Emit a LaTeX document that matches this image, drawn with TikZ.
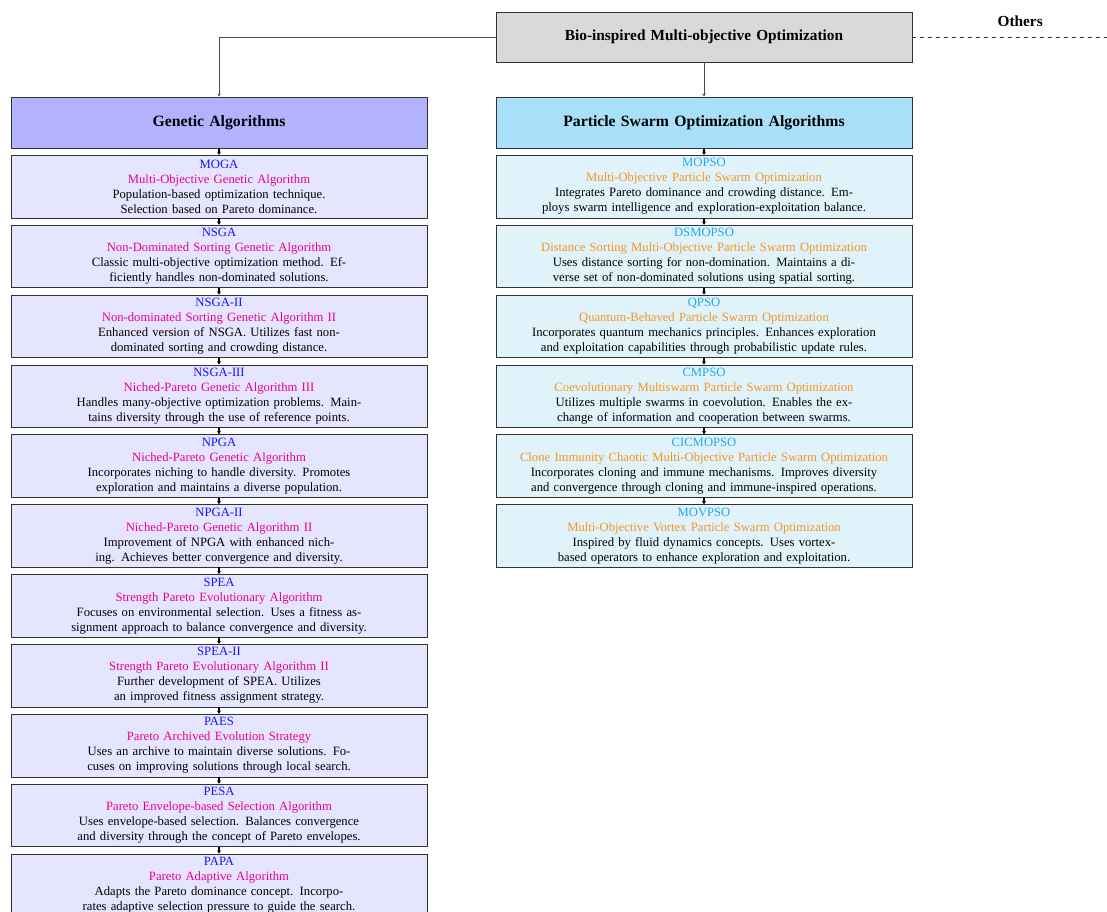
\documentclass[tikz,border=0pt]{standalone}
\usepackage{fontspec}
\setmainfont{Liberation Serif}
\usepackage{tikz}
\usetikzlibrary{positioning,arrows.meta}
\definecolor{gaabbr}{HTML}{1414FF}
\definecolor{ganame}{HTML}{EC008C}
\definecolor{psoabbr}{HTML}{1EA8EE}
\definecolor{psoname}{HTML}{F7941D}
\definecolor{psohead}{HTML}{A9E0F9}
\definecolor{psofill}{HTML}{E0F3FB}

\begin{document}
\begin{tikzpicture}[
  x=0.75pt, y=-0.75pt,
  font=\fontsize{9.5}{11.25}\selectfont,
  box/.style={draw=black!80,align=center,text width=308pt,inner xsep=2pt,inner ysep=1pt},
  root/.style={box,fill=gray!30,minimum height=37.5pt,font=\fontsize{11.5}{13}\selectfont\bfseries},
  head/.style={box,minimum height=38.25pt,font=\fontsize{11.8}{13}\selectfont\bfseries},
  gahead/.style={head,fill=blue!30},
  psohead/.style={head,fill=psohead},
  gaitem/.style={box,fill=blue!10,minimum height=47pt},
  psoitem/.style={box,fill=psofill,minimum height=47pt},
  link/.style={draw=black!70,-{Stealth[length=2.5pt,width=2.5pt]}},
  flow/.style={black,thick,-{Stealth[length=2.5pt,width=3pt]}},
  node distance=5pt,
]
\useasboundingbox (0,0) rectangle (1107,912);
% root
\node[root] (bio) at (704,37) {Bio-inspired Multi-objective Optimization};
\coordinate (oth) at (1128,37);
\draw[dashed,black!80] (bio.east) -- node[above=4pt,text=black,font=\fontsize{11.5}{13}\selectfont\bfseries] (othlabel) {Others} (oth);
% families
\node[gahead]  (ga)  at (219,122.5) {Genetic Algorithms};
\node[psohead] (pso) at (704,122.5) {Particle Swarm Optimization Algorithms};
\draw[link] (bio.west) -| (ga.north);
\draw[link] (bio.south) -- (pso.north);
% genetic algorithms
\node[gaitem,below=of ga] (moga) {\textcolor{gaabbr}{MOGA}\\\textcolor{ganame}{Multi-Objective Genetic Algorithm}\\Population-based optimization technique.\\Selection based on Pareto dominance.};
\node[gaitem,below=of moga] (nsga) {\textcolor{gaabbr}{NSGA}\\\textcolor{ganame}{Non-Dominated Sorting Genetic Algorithm}\\Classic multi-objective optimization method. Ef-\\ficiently handles non-dominated solutions.};
\node[gaitem,below=of nsga] (nsga2) {\textcolor{gaabbr}{NSGA-II}\\\textcolor{ganame}{Non-dominated Sorting Genetic Algorithm II}\\Enhanced version of NSGA. Utilizes fast non-\\dominated sorting and crowding distance.};
\node[gaitem,below=of nsga2] (nsga3) {\textcolor{gaabbr}{NSGA-III}\\\textcolor{ganame}{Niched-Pareto Genetic Algorithm III}\\Handles many-objective optimization problems. Main-\\tains diversity through the use of reference points.};
\node[gaitem,below=of nsga3] (npga) {\textcolor{gaabbr}{NPGA}\\\textcolor{ganame}{Niched-Pareto Genetic Algorithm}\\Incorporates niching to handle diversity. Promotes\\exploration and maintains a diverse population.};
\node[gaitem,below=of npga] (npga2) {\textcolor{gaabbr}{NPGA-II}\\\textcolor{ganame}{Niched-Pareto Genetic Algorithm II}\\Improvement of NPGA with enhanced nich-\\ing. Achieves better convergence and diversity.};
\node[gaitem,below=of npga2] (spea) {\textcolor{gaabbr}{SPEA}\\\textcolor{ganame}{Strength Pareto Evolutionary Algorithm}\\Focuses on environmental selection. Uses a fitness as-\\signment approach to balance convergence and diversity.};
\node[gaitem,below=of spea] (spea2) {\textcolor{gaabbr}{SPEA-II}\\\textcolor{ganame}{Strength Pareto Evolutionary Algorithm II}\\Further development of SPEA. Utilizes\\an improved fitness assignment strategy.};
\node[gaitem,below=of spea2] (paes) {\textcolor{gaabbr}{PAES}\\\textcolor{ganame}{Pareto Archived Evolution Strategy}\\Uses an archive to maintain diverse solutions. Fo-\\cuses on improving solutions through local search.};
\node[gaitem,below=of paes] (pesa) {\textcolor{gaabbr}{PESA}\\\textcolor{ganame}{Pareto Envelope-based Selection Algorithm}\\Uses envelope-based selection. Balances convergence\\and diversity through the concept of Pareto envelopes.};
\node[gaitem,below=of pesa] (papa) {\textcolor{gaabbr}{PAPA}\\\textcolor{ganame}{Pareto Adaptive Algorithm}\\Adapts the Pareto dominance concept. Incorpo-\\rates adaptive selection pressure to guide the search.};
\draw[flow] (ga) -- (moga);
\draw[flow] (moga) -- (nsga);
\draw[flow] (nsga) -- (nsga2);
\draw[flow] (nsga2) -- (nsga3);
\draw[flow] (nsga3) -- (npga);
\draw[flow] (npga) -- (npga2);
\draw[flow] (npga2) -- (spea);
\draw[flow] (spea) -- (spea2);
\draw[flow] (spea2) -- (paes);
\draw[flow] (paes) -- (pesa);
\draw[flow] (pesa) -- (papa);
% particle swarm
\node[psoitem,below=of pso] (mopso) {\textcolor{psoabbr}{MOPSO}\\\textcolor{psoname}{Multi-Objective Particle Swarm Optimization}\\Integrates Pareto dominance and crowding distance. Em-\\ploys swarm intelligence and exploration-exploitation balance.};
\node[psoitem,below=of mopso] (dsmopso) {\textcolor{psoabbr}{DSMOPSO}\\\textcolor{psoname}{Distance Sorting Multi-Objective Particle Swarm Optimization}\\Uses distance sorting for non-domination. Maintains a di-\\verse set of non-dominated solutions using spatial sorting.};
\node[psoitem,below=of dsmopso] (qpso) {\textcolor{psoabbr}{QPSO}\\\textcolor{psoname}{Quantum-Behaved Particle Swarm Optimization}\\Incorporates quantum mechanics principles. Enhances exploration\\and exploitation capabilities through probabilistic update rules.};
\node[psoitem,below=of qpso] (cmpso) {\textcolor{psoabbr}{CMPSO}\\\textcolor{psoname}{Coevolutionary Multiswarm Particle Swarm Optimization}\\Utilizes multiple swarms in coevolution. Enables the ex-\\change of information and cooperation between swarms.};
\node[psoitem,below=of cmpso] (cicmopso) {\textcolor{psoabbr}{CICMOPSO}\\\textcolor{psoname}{Clone Immunity Chaotic Multi-Objective Particle Swarm Optimization}\\Incorporates cloning and immune mechanisms. Improves diversity\\and convergence through cloning and immune-inspired operations.};
\node[psoitem,below=of cicmopso] (movpso) {\textcolor{psoabbr}{MOVPSO}\\\textcolor{psoname}{Multi-Objective Vortex Particle Swarm Optimization}\\Inspired by fluid dynamics concepts. Uses vortex-\\based operators to enhance exploration and exploitation.};
\draw[flow] (pso) -- (mopso);
\draw[flow] (mopso) -- (dsmopso);
\draw[flow] (dsmopso) -- (qpso);
\draw[flow] (qpso) -- (cmpso);
\draw[flow] (cmpso) -- (cicmopso);
\draw[flow] (cicmopso) -- (movpso);
\end{tikzpicture}
\end{document}
